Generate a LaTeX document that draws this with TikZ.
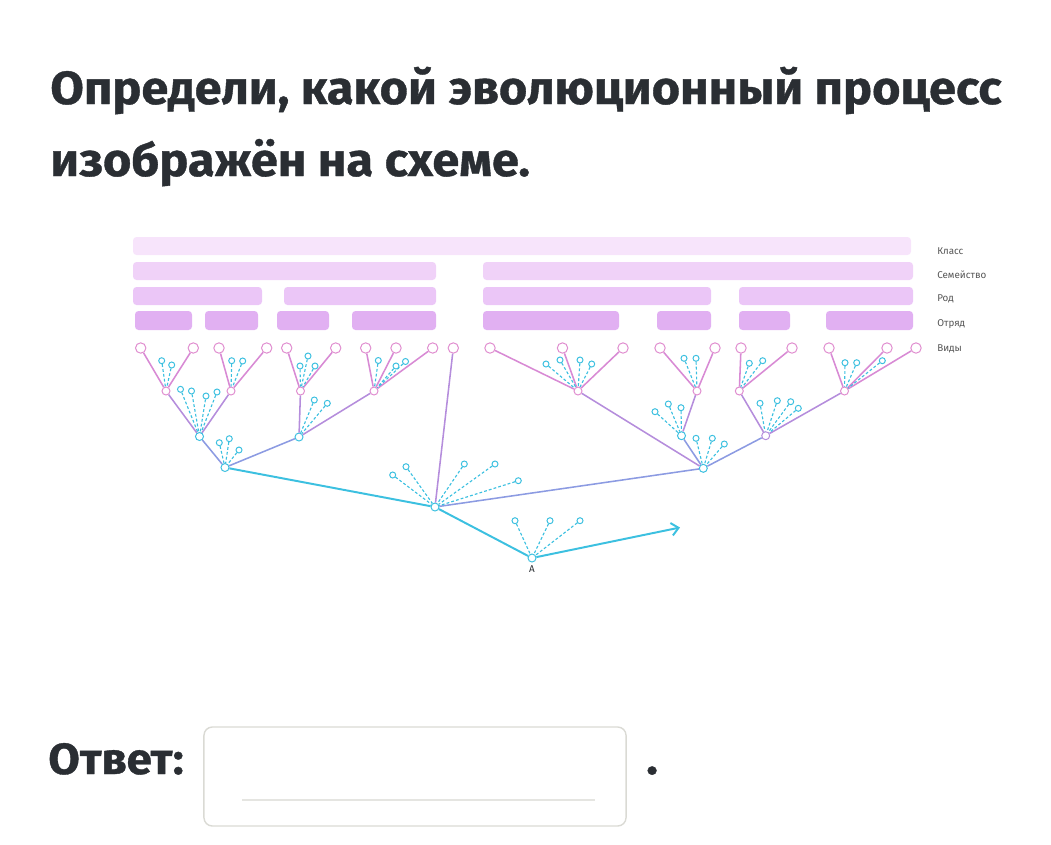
\documentclass[tikz,border=0pt]{standalone}
\usepackage{fontspec}
\newfontfamily\headfont{Fira Sans}[FakeStretch=1.05,FakeBold=0.8]
\newfontfamily\labfont{Fira Sans}
\usetikzlibrary{arrows.meta,positioning}
\usepackage{xcolor}
\definecolor{ink}{HTML}{2A2E33}
\definecolor{barA}{HTML}{F7E4FB}
\definecolor{barB}{HTML}{F0D2F8}
\definecolor{barC}{HTML}{EBC6F7}
\definecolor{barD}{HTML}{E1B0F2}
\definecolor{spk}{HTML}{E08CCF}
\definecolor{pk}{HTML}{D88AD4}
\definecolor{mv}{HTML}{B58DDC}
\definecolor{bl}{HTML}{8C9BE2}
\definecolor{cy}{HTML}{3CC0E0}
\definecolor{labgray}{HTML}{555555}
\definecolor{boxgray}{HTML}{DADAD4}

\begin{document}
\begin{tikzpicture}[x=0.025cm,y=-0.025cm,
  bar/.style={rounded corners=2.5pt},
  sp/.style={circle,draw=spk,fill=white,line width=0.7pt,minimum size=0.26cm,inner sep=0pt},
  br/.style={circle,draw=#1,fill=white,line width=0.7pt,minimum size=0.2cm,inner sep=0pt},
  ext/.style={circle,draw=cy,fill=white,line width=0.7pt,minimum size=0.15cm,inner sep=0pt},
  extline/.style={draw=cy,dash pattern=on 2pt off 1.5pt,line width=0.8pt},
  tree/.style={line width=1.1pt},
  lab/.style={anchor=west,inner sep=0pt,font=\labfont\fontsize{7}{8}\selectfont,text=labgray},
  head/.style={anchor=base west,inner sep=0pt,text=ink,font=\headfont\bfseries\fontsize{33}{40}\selectfont}]
\useasboundingbox (0,0) rectangle (1051,844);

% question
\node[head] (q1) at (50,104) {Определи, какой эволюционный процесс};
\node[head] (q2) at (50,176) {изображён на схеме.};

% taxon bars
\fill[barA,bar] (133,237) rectangle (911,255);
\fill[barB,bar] (133,262) rectangle (436,280);
\fill[barB,bar] (483,262) rectangle (913,280);
\foreach \a/\b in {133/262,284/436,483/711,739/913}
  \fill[barC,bar] (\a,287) rectangle (\b,305);
\foreach \a/\b in {135/192,205/258,277/329,352/436,483/619,657/711,739/790,826/913}
  \fill[barD,bar] (\a,311) rectangle (\b,330);

\node[lab] (cls) at (937,251) {Класс};
\node[lab] (fam) at (937,275) {Семейство};
\node[lab] (gen) at (937,299) {Род};
\node[lab] (ord) at (937,324) {Отряд};
\node[lab] (spc) at (937,349) {Виды};

% species
\foreach \x [count=\i] in {140.7,193.3,219,266.7,286.7,335.7,365.7,396,432.7,453.3,
                           490,562.5,623,660,715,741,792,829,887,916}
  \node[sp] (s\i) at (\x,348) {};

% branch points
\node[br=spk] (n1) at (166,391) {};
\node[br=spk] (n2) at (231,391) {};
\node[br=spk] (n3) at (300.5,391) {};
\node[br=spk] (n4) at (374,391) {};
\node[br=spk] (n5) at (578,391) {};
\node[br=spk] (n6) at (697,391) {};
\node[br=spk] (n7) at (739.3,391) {};
\node[br=spk] (n8) at (844.5,391) {};
\node[br=cy] (m1) at (199.5,436.5) {};
\node[br=cy] (m2) at (299,437) {};
\node[br=cy] (m3) at (225,467.5) {};
\node[br=cy] (m4) at (681.5,435.7) {};
\node[br=mv] (m5) at (765.7,435.7) {};
\node[br=cy] (m6) at (703.3,468.3) {};
\node[br=cy] (r) at (435,507) {};
\node[br=cy] (a) at (532,558) {};
\node[inner sep=0pt,font=\labfont\fontsize{7}{8}\selectfont,text=ink,below=0.08cm of a] (alab) {A};
\coordinate (tip) at (680,527.5);

% lineages
\foreach \s/\n in {s1/n1,s2/n1,s3/n2,s4/n2,s5/n3,s6/n3,s7/n4,s8/n4,s9/n4,
                   s11/n5,s12/n5,s13/n5,s14/n6,s15/n6,s16/n7,s17/n7,s18/n8,s19/n8,s20/n8}
  \draw[tree,pk] (\s) -- (\n);
\foreach \s/\n in {n1/m1,n2/m1,n3/m2,n4/m2,n6/m4,n7/m5,n8/m5,n5/m6}
  \draw[tree,mv] (\s) -- (\n);
\draw[tree,mv] (s10) -- (r);
\draw[tree,bl] (m1) -- (m3);
\draw[tree,bl] (m2) -- (m3);
\draw[tree,bl] (m4) -- (m6);
\draw[tree,bl] (m5) -- (m6);
\draw[tree,bl] (m6) -- (r);
\draw[tree,cy,line width=1.4pt] (m3) -- (r);
\draw[tree,cy,line width=1.4pt] (r) -- (a);
\draw[tree,cy,line width=1.4pt,-{Straight Barb[length=5pt,width=9pt]}] (a) -- (tip);

% extinct offshoots
\foreach \p/\x/\y [count=\i] in {n1/161.7/360.7,n1/171.7/365,n2/231.7/360.7,n2/242.7/361,
    n3/308/356,n3/300/366,n3/315/366,n4/378.3/360.5,n4/396/366,n4/405.5/361.5,
    m1/180.5/389.3,m1/191.5/391,m1/206/396,m1/217/392,m3/219.3/442.7,m3/229.3/438.7,m3/239/450,
    m2/314.3/400,m2/327.3/403.3,r/392.7/475,r/406/466.7,r/464.3/464,r/495/464,r/518.3/480.7,
    a/515/520.7,a/550/520.7,a/580/520.7,n5/546/364,n5/560/360,n5/580/360,n5/591.7/364,
    n6/684/358.3,n6/696/358.3,m4/655/411.7,m4/668.3/404,m4/681/407.7,
    m6/696/438.3,m6/712.3/438.3,m6/724.3/444,n7/749.3/363.3,n7/762.7/360.7,
    n8/845/362.7,n8/856.7/362.7,n8/882.3/360.7,
    m5/760/403.3,m5/777.3/400.7,m5/790.7/401.7,m5/798.3/408.3} {
  \node[ext] (e\i) at (\x,\y) {};
  \draw[extline] (e\i) -- (\p);
}

% answer field
\node[head,font=\headfont\bfseries\fontsize{31}{38}\selectfont] (ans) at (48,774) {Ответ:};
\node[draw=boxgray,line width=1pt,rounded corners=6pt,minimum width=10.55cm,minimum height=2.475cm] (box) at (415,776.5) {};
\draw[boxgray!70,line width=2pt] (242,800) -- (595,800);
\node[head] (dot) at (646,774) {.};
\end{tikzpicture}
\end{document}
